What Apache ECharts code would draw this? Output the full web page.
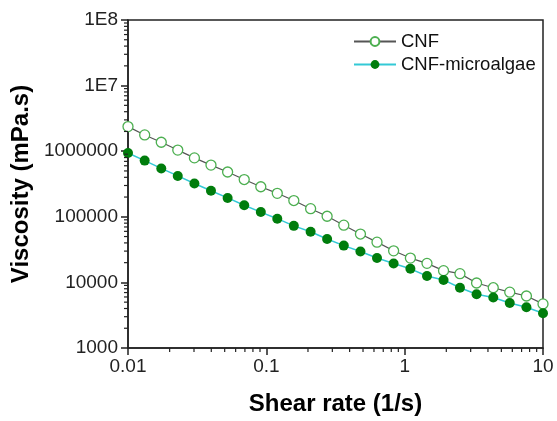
<!DOCTYPE html>
<html><head><meta charset="utf-8">
<script src="https://cdn.jsdelivr.net/npm/echarts@6/dist/echarts.min.js"></script>
<style>html,body{margin:0;padding:0;background:#fff}#c{width:557px;height:421px}</style>
</head><body><div id="c"></div>
<script>
// Data
const shearRate = [0.01,0.0132,0.0174,0.0229,0.0302,0.0398,0.0525,0.0692,0.0912,0.120,0.158,0.209,0.275,0.363,0.479,0.631,0.832,1.10,1.45,1.91,2.51,3.31,4.37,5.75,7.59,10];
const cnf = [2370000,1770000,1370000,1040000,791000,614000,482000,370000,287000,228000,177000,133000,102000,74500,54600,41100,30300,23500,19500,15100,13600,9800,8300,7100,6200,4700];
const cnfMicroalgae = [940000,719000,546000,420000,322000,250000,194000,150000,118000,93600,72800,59200,45900,36400,29600,23600,19400,16100,12500,10900,8300,6600,5900,4850,4170,3390];
const seriesNames = ['CNF','CNF-microalgae'];
const xTickLabels = ['0.01','0.1','1','10'];
const yTickLabels = ['1000','10000','100000','1000000','1E7','1E8'];
const xTitle = 'Shear rate (1/s)';
const yTitle = 'Viscosity (mPa.s)';

const xMin = 0.01, xMax = 10, yMin = 1000, yMax = 1e8;
const minorMult = [2,3,4,5,6,7,8,9];
const xMinor = [], yMinor = [];
for (let d = 0.01; d < xMax * 0.99; d *= 10) minorMult.forEach(m => xMinor.push(['x', m * d]));
for (let d = 1000; d < yMax * 0.99; d *= 10) minorMult.forEach(m => yMinor.push(['y', m * d]));

const pair = (xs, ys) => xs.map((x, i) => [x, ys[i]]);
const font = '"Liberation Sans", Arial, sans-serif';

const chart = echarts.init(document.getElementById('c'), null, {renderer: 'canvas'});
chart.setOption({
  backgroundColor: '#fff',
  animation: false,
  grid: {left: 128, right: 14, top: 20, bottom: 68, show: true, borderColor: '#222', borderWidth: 1.5, backgroundColor: 'transparent'},
  legend: {
    data: seriesNames, orient: 'vertical', left: 353, top: 32, padding: 0,
    itemWidth: 42, itemHeight: 11, itemGap: 4,
    textStyle: {fontFamily: font, fontSize: 18.5, color: '#111'}
  },
  xAxis: {
    type: 'log', logBase: 10, min: xMin, max: xMax,
    name: xTitle, nameLocation: 'middle', nameGap: 44,
    nameTextStyle: {fontFamily: font, fontSize: 24, fontWeight: 'bold', color: '#000'},
    axisLine: {lineStyle: {color: '#222', width: 1.5}},
    axisTick: {show: true, length: 7, lineStyle: {color: '#222', width: 1.5}},
    axisLabel: {margin: 9, fontFamily: font, fontSize: 19, color: '#222',
      formatter: v => xTickLabels[Math.round(Math.log10(v) - Math.log10(xMin))]},
    splitLine: {show: false}
  },
  yAxis: {
    type: 'log', logBase: 10, min: yMin, max: yMax,
    name: yTitle, nameLocation: 'middle', nameGap: 91, nameRotate: 90,
    nameTextStyle: {fontFamily: font, fontSize: 24, fontWeight: 'bold', color: '#000'},
    axisLine: {lineStyle: {color: '#222', width: 1.5}},
    axisTick: {show: true, length: 7, lineStyle: {color: '#222', width: 1.5}},
    axisLabel: {margin: 10, fontFamily: font, fontSize: 19, color: '#222',
      formatter: v => yTickLabels[Math.round(Math.log10(v) - Math.log10(yMin))]},
    splitLine: {show: false}
  },
  series: [
    {
      name: seriesNames[0], type: 'line', data: pair(shearRate, cnf),
      symbol: 'circle', symbolSize: 10, z: 3,
      lineStyle: {color: '#555', width: 1.2},
      itemStyle: {color: '#fff', borderColor: '#4caf50', borderWidth: 1.3}
    },
    {
      name: seriesNames[1], type: 'line', data: pair(shearRate, cnfMicroalgae),
      symbol: 'circle', symbolSize: 10, z: 4,
      lineStyle: {color: '#33c9d6', width: 1.5},
      itemStyle: {color: '#007d0c', borderColor: '#007d0c', borderWidth: 0}
    },
    {
      type: 'custom', silent: true, clip: false, z: 10,
      data: xMinor.concat(yMinor).map(d => [d[0] === 'x' ? 0 : 1, d[1]]),
      encode: {x: -1, y: -1},
      renderItem: (params, api) => {
        const kind = api.value(0), v = api.value(1);
        if (kind === 0) {
          const p = api.coord([v, yMin]);
          return {type: 'line', shape: {x1: p[0], y1: p[1], x2: p[0], y2: p[1] + 4}, style: {stroke: '#222', lineWidth: 1.2}};
        } else {
          const p = api.coord([xMin, v]);
          return {type: 'line', shape: {x1: p[0], y1: p[1], x2: p[0] - 4, y2: p[1]}, style: {stroke: '#222', lineWidth: 1.2}};
        }
      }
    }
  ]
});
</script></body></html>
